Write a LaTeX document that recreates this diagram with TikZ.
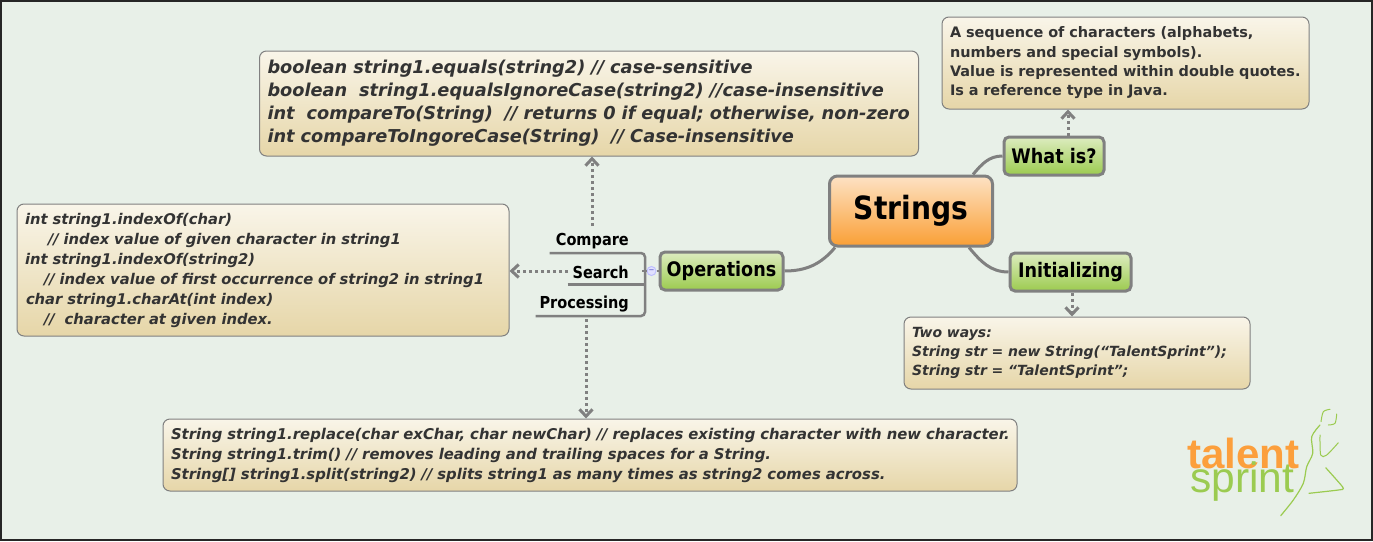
\documentclass[tikz,border=0pt]{standalone}
\usepackage{fontspec}
\setmainfont{DejaVu Sans}
\newfontfamily\nodefont{DejaVu Sans}[FakeStretch=0.88]
\newfontfamily\logofont{Liberation Sans}
\usetikzlibrary{arrows.meta}
\definecolor{bgc}{HTML}{E8F0E8}
\definecolor{linec}{HTML}{808080}
\definecolor{txtc}{HTML}{333333}
\definecolor{logoO}{HTML}{FC9F3C}
\definecolor{logoG}{HTML}{9BCB50}
\definecolor{rootT}{HTML}{FDE2C4}
\definecolor{rootB}{HTML}{FA9F35}
\definecolor{grT}{HTML}{DDECC0}
\definecolor{grB}{HTML}{9CCB4F}
\definecolor{ntT}{HTML}{F9F5E9}
\definecolor{ntB}{HTML}{E6D6A8}
\tikzset{
    RT/.style ={rectangle,rounded corners=8pt,draw=linec,line width=3pt,top color=rootT,bottom color=rootB,
        minimum width=163pt,minimum height=70pt,inner sep=0pt,font=\nodefont\bfseries\fontsize{32}{36}\selectfont},
    GR/.style ={rectangle,rounded corners=5pt,draw=linec,line width=3pt,top color=grT,bottom color=grB,
        minimum height=38pt,inner sep=0pt,font=\nodefont\bfseries\fontsize{20}{22}\selectfont},
    NT/.style ={rectangle,rounded corners=7pt,draw=linec,line width=1pt,top color=ntT,bottom color=ntB,
        inner xsep=8pt,inner ysep=0pt,align=left,text=txtc},
    LA/.style ={anchor=south east,inner sep=0pt,minimum height=24pt,align=right,font=\nodefont\bfseries\fontsize{16.5}{18}\selectfont},
    CO/.style ={draw=linec,line width=3pt},
    DA/.style ={draw=linec,line width=3pt,dash pattern=on 3pt off 3pt,-{Straight Barb[length=7pt,width=13pt,line width=3pt]}}}

\begin{document}
\begin{tikzpicture}[x=1pt,y=-1pt]
        % background
        \path[use as bounding box,fill=black!85] (0,0) rectangle (1373,541);
        \fill[bgc] (2,2) rectangle (1371,539);
        % main nodes
        \node[RT] (root) at(911,211){Strings};
        \node[GR,minimum width=100pt] (what) at(1054,156){What is?};
        \node[GR,minimum width=121pt] (init) at(1070.5,272){Initializing};
        \node[GR,minimum width=123pt] (oper) at(721.5,271){Operations};
        % notes
        \node[NT,text width=351pt,minimum height=92pt,font=\bfseries\fontsize{14.45}{19.3}\selectfont] (nwhat) at(1125.5,63){A sequence of characters (alphabets,\\numbers and special symbols).\\Value is represented within double quotes.\\Is a reference type in Java.};
        \node[NT,text width=643pt,minimum height=105pt,font=\bfseries\itshape\fontsize{17.75}{23}\selectfont] (ncomp) at(589,103.5){boolean string1.equals(string2) // case-sensitive\\boolean~ string1.equalsIgnoreCase(string2) //case-insensitive\\int~ compareTo(String)~ // returns 0 if equal; otherwise, non-zero\\int compareToIngoreCase(String)~ // Case-insensitive};
        \node[NT,text width=476pt,minimum height=132pt,font=\bfseries\itshape\fontsize{14.75}{20}\selectfont] (nsear) at(263,270){int string1.indexOf(char)\\\hspace*{23pt}// index value of given character in string1\\int string1.indexOf(string2)\\\hspace*{19pt}// index value of first occurrence of string2 in string1\\\hspace*{1pt}char string1.charAt(int index)\\\hspace*{19pt}//~ character at given index.};
        \node[NT,text width=330pt,minimum height=72pt,font=\bfseries\itshape\fontsize{14}{19}\selectfont] (ninit) at(1077,353){Two ways:\\String str = new String(“TalentSprint”);\\String str = “TalentSprint”;};
        \node[NT,text width=838pt,minimum height=72pt,font=\bfseries\itshape\fontsize{14.85}{20}\selectfont] (nproc) at(590,455){\mbox{String string1.replace(char exChar, char newChar) // replaces existing character with new character.}\\String string1.trim() // removes leading and trailing spaces for a String.\\String[] string1.split(string2) // splits string1 as many times as string2 comes across.};
        % topics under operations
        \node[LA,minimum width=95pt,text width=95pt] (lcomp) at(645,253){Compare\rule{16pt}{0pt}};
        \node[LA,minimum width=77pt,text width=77pt] (lsear) at(645,284.5){Search\rule{16pt}{0pt}};
        \node[LA,minimum width=109pt,text width=109pt] (lproc) at(645,316){Processing\rule{16pt}{0pt}};
        \node[circle,draw=blue!25,fill=blue!12,line width=1pt,minimum width=9pt,inner sep=0pt,font=\fontsize{7}{7}\selectfont,text=blue!50!gray] (fold) at(651.5,271){−};
        % connectors
        \draw[CO] (oper.east) to[out=0,in=-130] ([xshift=7pt]root.south west);
        \draw[CO] (what.west) to[out=180,in=50] ([xshift=-21pt]root.north east);
        \draw[CO] (init.west) to[out=180,in=-50] ([xshift=-25pt]root.south east);
        \draw[draw=linec,line width=2pt] (fold.west) -- ++(-5,0);
        \draw[draw=linec,line width=2pt] (fold.east) -- (oper.west);
        \draw[draw=linec,line width=2.5pt,rounded corners=4pt] (lcomp.south west) -- (lcomp.south east) -- (lproc.south east) -- (lproc.south west);
        \draw[draw=linec,line width=2.5pt] (lsear.south west) -- (lsear.south east);
        \coordinate (a1) at(592,226);
        \coordinate (a2) at(568,271);
        \coordinate (a3) at(586,319);
        \draw[DA] (a1) -- (a1 |- ncomp.south);
        \draw[DA] (a2) -- (nsear.east |- a2);
        \draw[DA] (a3) -- (a3 |- nproc.north);
        \draw[DA] ([xshift=14pt]what.north) -- ([xshift=14pt]what.north |- nwhat.south);
        \draw[DA] ([xshift=1.5pt]init.south) -- ([xshift=1.5pt]init.south |- ninit.north);
        % logo
        \node[anchor=base west,inner sep=0pt,text=logoO,font=\logofont\bfseries\fontsize{42}{42}\selectfont] (talent) at(1187,468){talent};
        \node[anchor=base west,inner sep=0pt,text=logoG,font=\logofont\fontsize{42.5}{42}\selectfont] (sprint) at(1190,492){sprint};
        \draw[logoG,line width=1.2pt,line cap=round] plot[smooth] coordinates {(1280.7,515.7) (1293.3,500) (1303.3,483.3) (1306.7,466.7) (1312.7,453.3) (1311.7,436.7) (1320,425)};
        \draw[logoG,line width=1pt,line cap=round] plot[smooth] coordinates {(1321,421.7) (1323.3,411.7) (1330,409.3)};
        \draw[logoG,line width=1pt,line cap=round] plot[smooth] coordinates {(1336.7,414) (1335,423.3) (1328.3,425)};
        \draw[logoG,line width=1pt,line cap=round] plot[smooth] coordinates {(1320,435) (1320.7,455) (1326.7,455) (1338.3,442.7)};
        \draw[logoG,line width=1.2pt,line cap=round] plot[smooth] coordinates {(1325.7,467.7) (1336.7,480) (1343.3,488.3) (1338.3,490) (1309,493.3)};
    \end{tikzpicture}
\end{document}
